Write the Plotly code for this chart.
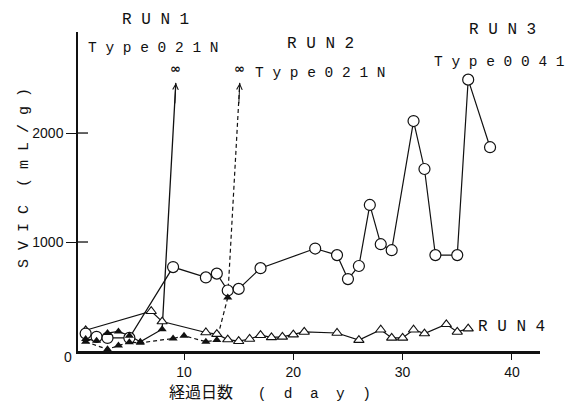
import plotly.graph_objects as go

# ---- data ----
run3_days = [1, 2, 3, 5, 9, 12, 13, 14, 15, 17, 22, 24, 25, 26, 27, 28, 29, 31, 32, 33, 35, 36, 38]
run3_svi = [160, 130, 120, 120, 770, 675, 710, 555, 570, 760, 940, 880, 660, 780, 1340, 980, 925,
            2110, 1670, 880, 880, 2490, 1870]

run4_days = [1, 7, 8, 12, 13, 14, 15, 16, 17, 18, 19, 20, 21, 24, 26, 28, 29, 30, 31, 32, 34, 35, 36]
run4_svi = [190, 365, 270, 170, 155, 105, 90, 110, 145, 125, 130, 150, 175, 165, 100, 195, 120,
            120, 195, 160, 245, 175, 205]

run1_days = [1, 2, 3, 4, 5, 6, 8]
run1_svi = [110, 95, 165, 180, 140, 85, 200]
run1_inf_day = 9.25   # SVI -> infinity

run2_days = [1, 3, 4, 5, 6, 9, 10, 12, 13, 14]
run2_svi = [85, 15, 50, 80, 75, 115, 140, 85, 100, 490]
run2_inf_day = 15.1   # SVI -> infinity

inf_level = 2460      # where the "infinity" arrows end

x_ticks = [10, 20, 30, 40]
y_ticks = [1000, 2000]

MONO = "Liberation Mono"
SANS = "Liberation Sans"
BLACK = "#111111"

fig = go.Figure()

# RUN1 solid line to infinity
fig.add_trace(go.Scatter(x=run1_days + [run1_inf_day], y=run1_svi + [inf_level], mode="lines",
                         line=dict(color=BLACK, width=1.3), showlegend=False, hoverinfo="skip"))
# RUN2 dashed line to infinity
fig.add_trace(go.Scatter(x=run2_days + [run2_inf_day], y=run2_svi + [inf_level], mode="lines",
                         line=dict(color=BLACK, width=1.2, dash="4px,3px"), showlegend=False,
                         hoverinfo="skip"))
# RUN4 open triangles
fig.add_trace(go.Scatter(x=run4_days, y=run4_svi, mode="lines+markers",
                         line=dict(color=BLACK, width=1.2),
                         marker=dict(symbol="triangle-up", size=9, color="white",
                                     line=dict(color=BLACK, width=1.1)),
                         showlegend=False))
# RUN3 open circles
fig.add_trace(go.Scatter(x=run3_days, y=run3_svi, mode="lines+markers",
                         line=dict(color=BLACK, width=1.2),
                         marker=dict(symbol="circle", size=11, color="white",
                                     line=dict(color=BLACK, width=1.2)),
                         showlegend=False))
# RUN1 / RUN2 filled triangle markers
fig.add_trace(go.Scatter(x=run1_days, y=run1_svi, mode="markers",
                         marker=dict(symbol="triangle-up", size=8, color=BLACK),
                         showlegend=False))
fig.add_trace(go.Scatter(x=run2_days, y=run2_svi, mode="markers",
                         marker=dict(symbol="triangle-up", size=8, color=BLACK),
                         showlegend=False))

ann = []
# arrowheads + infinity signs
for xd in (run1_inf_day, run2_inf_day):
    ann.append(dict(x=xd, y=inf_level, xref="x", yref="y", ax=-1, ay=22, showarrow=True,
                    arrowhead=5, arrowsize=1.1, arrowwidth=1, arrowcolor=BLACK, text=""))
    ann.append(dict(x=xd, y=inf_level, xref="x", yref="y", text="<b>∞</b>", showarrow=False,
                    yanchor="bottom", yshift=5, font=dict(family="DejaVu Sans", size=13, color=BLACK)))

L, R, T, B = 78, 26, 32, 51
W, H = 566 - L - R, 402 - T - B


def txt(s, px, py, size=15, fam=MONO, **kw):
    """Text placed by page-pixel centre, converted to plot-area paper coords."""
    d = dict(text=s, x=(px - L) / W, y=(402 - B - py) / H, xref="paper", yref="paper",
             showarrow=False, font=dict(family=fam, size=size, color=BLACK),
             xanchor="center", yanchor="middle")
    d.update(kw)
    return d


labels = [
    ("R U N 1", 155, 20, 16), ("T y p e 0 2 1 N", 153, 48, 14.5),
    ("R U N 2", 320, 44, 16), ("T y p e 0 2 1 N", 320, 73, 14.5),
    ("R U N 3", 502, 30, 16), ("T y p e 0 0 4 1", 499, 62, 14.5),
    ("R U N 4", 511, 327, 16),
]
for s, px, py, sz in labels:
    ann.append(txt(s, px, py, sz))

ann.append(txt("0", 68, 357, 14, SANS))
ann.append(txt("S V I C  ( m L / g )", 25, 178, 15, MONO, textangle=-90))
ann.append(txt("<span style='font-family:Noto Sans CJK JP;font-size:16px'>経過日数　</span>"
               " (  d  a  y  )", 270, 391, 14.5, MONO, borderpad=0))

# inner half of the y ticks
shapes = [dict(type="line", xref="paper", yref="y", x0=0, x1=10 / W, y0=v, y1=v,
               line=dict(color=BLACK, width=1.3)) for v in y_ticks]

fig.update_layout(
    width=566, height=402,
    margin=dict(l=L, r=R, t=T, b=B, autoexpand=False),
    paper_bgcolor="white", plot_bgcolor="white",
    annotations=ann, shapes=shapes,
    xaxis=dict(range=[0.30, 42.57], tickvals=x_ticks, ticks="outside", ticklen=6, tickwidth=1.2,
               tickcolor=BLACK, showgrid=False, zeroline=False, showline=True, linecolor=BLACK,
               linewidth=2.5, automargin=False, tickfont=dict(family=SANS, size=14, color=BLACK)),
    yaxis=dict(range=[0, 2927], tickvals=y_ticks, ticks="outside", ticklen=10, tickwidth=1.3,
               tickcolor=BLACK, showgrid=False, zeroline=False, showline=True, linecolor=BLACK,
               linewidth=1.5, automargin=False, tickfont=dict(family=SANS, size=14, color=BLACK)),
)

fig.write_html("out.html", config={"displayModeBar": False},
               post_script="document.body.style.margin='0';document.body.style.overflow='hidden';")
